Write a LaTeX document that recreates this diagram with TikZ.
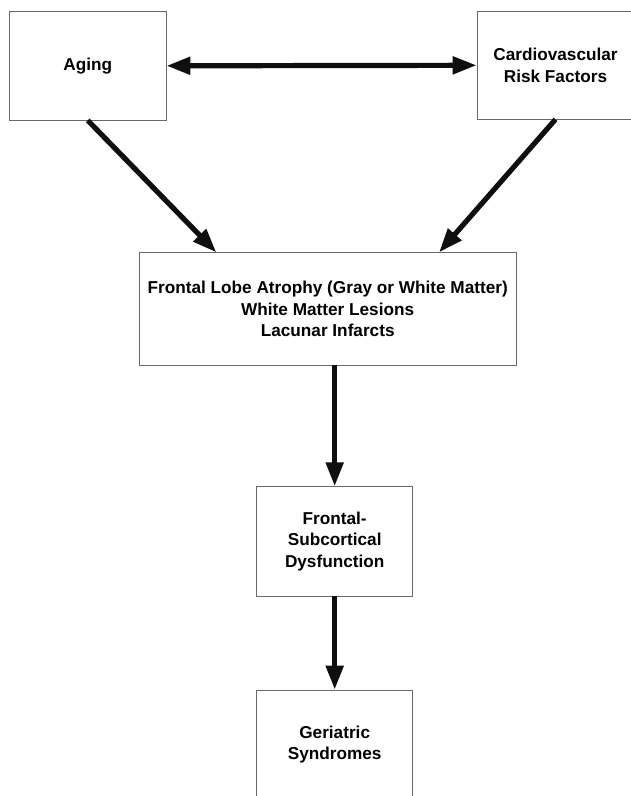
\documentclass[tikz,border=0pt]{standalone}
\usepackage{fontspec}
\setmainfont{Liberation Sans}
\usetikzlibrary{arrows.meta,calc}
\definecolor{ink}{RGB}{15,15,15}
\definecolor{frame}{RGB}{105,105,105}
\tikzset{
  >={Triangle[length=24pt,width=17pt]},
  box/.style={draw=frame,line width=0.8pt,fill=white,align=center,inner sep=0pt,
    font=\fontsize{17.2}{21.5}\selectfont\bfseries},
  flow/.style={->,line width=5.2pt,draw=ink},
}
\begin{document}
\begin{tikzpicture}[x=1pt,y=-1pt]
  \useasboundingbox (0,0) rectangle (631,796);
  % causes
  \node[box,minimum width=156.7pt,minimum height=108.3pt] (aging) at (87.7,65.8) {Aging};
  \node[box,minimum width=157pt,minimum height=107.3pt] (cardio) at (555.5,65.3) {Cardiovascular\\Risk Factors};
  % brain changes
  \node[box,minimum width=376.7pt,minimum height=112.3pt] (brain) at (327.7,308.9)
    {Frontal Lobe Atrophy (Gray or White Matter)\\White Matter Lesions\\Lacunar Infarcts};
  \node[box,minimum width=156pt,minimum height=109.3pt] (fsd) at (334.7,541.3) {Frontal-\\Subcortical\\Dysfunction};
  \node[box,minimum width=156pt,minimum height=109pt] (geri) at (334.7,744.5) {Geriatric\\Syndromes};
  % links
  \draw[flow,<->] (aging.east) -- (cardio.west);
  \draw[flow] (aging.south) -- ($(brain.north west)!0.205!(brain.north east)$);
  \draw[flow] (cardio.south) -- ($(brain.north west)!0.795!(brain.north east)$);
  \draw[flow] (brain.south -| fsd.north) -- (fsd.north);
  \draw[flow] (fsd.south) -- (geri.north);
\end{tikzpicture}
\end{document}
